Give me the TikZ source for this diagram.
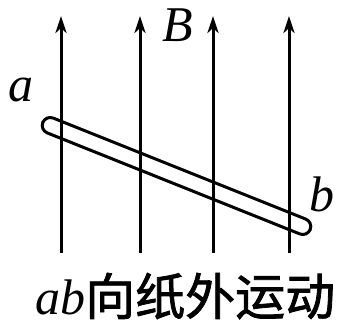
\documentclass[tikz,border=0pt]{standalone}
\usepackage{fontspec}
\setmainfont{Liberation Serif}
\newfontfamily\cjk[FakeBold=1.6]{Noto Sans CJK SC}
\usetikzlibrary{arrows.meta}

\begin{document}
\begin{tikzpicture}[x=1pt, y=1pt, >={Stealth[length=17pt, width=11pt, inset=5pt]},
  font=\fontsize{50}{60}\selectfont,
  fieldline/.style={->, line width=3pt},
  rod/.style={draw, line width=3pt, rectangle, rounded corners=8pt,
    minimum width=288pt, minimum height=16pt, inner sep=0pt},
  letter/.style={inner sep=0pt, font=\fontsize{50}{60}\selectfont\itshape}]
  \useasboundingbox (0,0) rectangle (337,326);

  % Field lines of B
  \foreach \n/\x in {1/61, 2/140, 3/213, 4/289} {
    \coordinate (lo\n) at (\x, 73);
    \coordinate (hi\n) at (\x, 310);
    \draw[fieldline] (lo\n) -- (hi\n);
  }

  % Rod ab
  \node[rod, rotate=-21.8] (rod) at (176.5, 150) {};

  % Labels
  \node[letter, anchor=base] (la) at (21, 224) {a};
  \node[letter, anchor=base] (lb) at (322, 114) {b};
  \node[letter, anchor=base] (lB) at (178, 284) {B};
  \node[anchor=base west, inner sep=0pt] (cap) at (35, 11)
    {\textit{ab}{\cjk 向纸外运动}};
\end{tikzpicture}
\end{document}
